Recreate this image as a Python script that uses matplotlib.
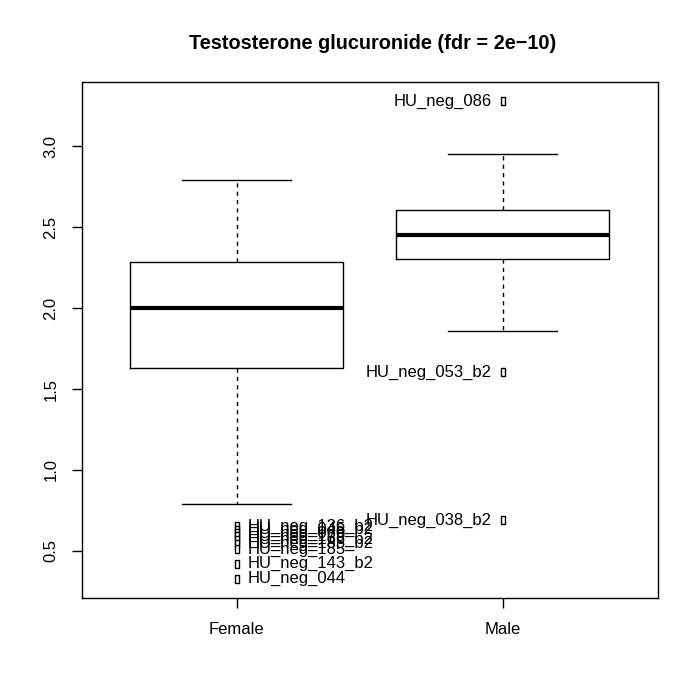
import numpy as np
import matplotlib.pyplot as plt

plt.rcParams['font.family'] = ['Liberation Sans', 'DejaVu Sans']

groups = ["Female", "Male"]
q1 = [1.630, 2.302]
med = [2.0, 2.451]
q3 = [2.284, 2.605]
whis_lo = [0.790, 1.858]
whis_hi = [2.790, 2.951]

female_out = [0.654, 0.63, 0.61, 0.59, 0.57, 0.545, 0.51, 0.42, 0.327]
female_names = ["HU_neg_136_b2", "HU_neg_045_b2", "HU_neg_069", "HU_neg_179",
                "HU_neg_166_b2", "HU_neg_185_b2", "HU_neg_185", "HU_neg_143_b2", "HU_neg_044"]
male_out = [3.278, 1.605, 0.691]
male_names = ["HU_neg_086", "HU_neg_053_b2", "HU_neg_038_b2"]

fig = plt.figure(figsize=(7, 7), dpi=100)
ax = fig.add_axes([0.117, 0.1457, 0.823, 0.737])

stats = []
for i in range(2):
    stats.append(dict(q1=q1[i], med=med[i], q3=q3[i], whislo=whis_lo[i], whishi=whis_hi[i], fliers=[]))

ax.bxp(stats, positions=[1, 2], widths=0.8, showfliers=False,
       boxprops=dict(color="black", lw=1),
       medianprops=dict(color="black", lw=3, solid_capstyle="butt"),
       whiskerprops=dict(color="black", lw=1, ls=(0, (3, 3))),
       capprops=dict(color="black", lw=1), capwidths=0.41)

rect = [(-0.5, -1), (0.5, -1), (0.5, 1), (-0.5, 1), (-0.5, -1)]
ax.plot([1] * len(female_out), female_out, ls="none", marker=rect, ms=6,
        mfc="white", mec="black", mew=1)
ax.plot([2] * len(male_out), male_out, ls="none", marker=rect, ms=6,
        mfc="white", mec="black", mew=1)

for v, n in zip(female_out, female_names):
    ax.annotate(n, (1, v), xytext=(7.5, 0), textcoords="offset points",
                ha="left", va="center", fontsize=12)
for v, n in zip(male_out, male_names):
    ax.annotate(n, (2, v), xytext=(-8, 0), textcoords="offset points",
                ha="right", va="center", fontsize=12)

# R-style 4% padding on the y range
allv = female_out + male_out + whis_lo + whis_hi
lo, hi = min(allv), max(allv)
span = hi - lo
ax.set_xlim(0.418, 2.583)
ax.set_ylim(lo - 0.04 * span, hi + 0.04 * span)
ax.set_xticks([1, 2])
ax.set_xticklabels(groups, fontsize=12)
ax.set_yticks([0.5, 1.0, 1.5, 2.0, 2.5, 3.0])
ax.set_yticklabels(["0.5", "1.0", "1.5", "2.0", "2.5", "3.0"], fontsize=12,
                   rotation=90, va="center")
ax.tick_params(direction="out", length=7, width=1, pad=10)
for s in ax.spines.values():
    s.set_linewidth(1)

fig.text(0.533, 0.938, "Testosterone glucuronide (fdr = 2e\u221210)",
         ha="center", va="center", fontsize=14.3, fontweight="bold")

fig.savefig("out.png", dpi=100)
